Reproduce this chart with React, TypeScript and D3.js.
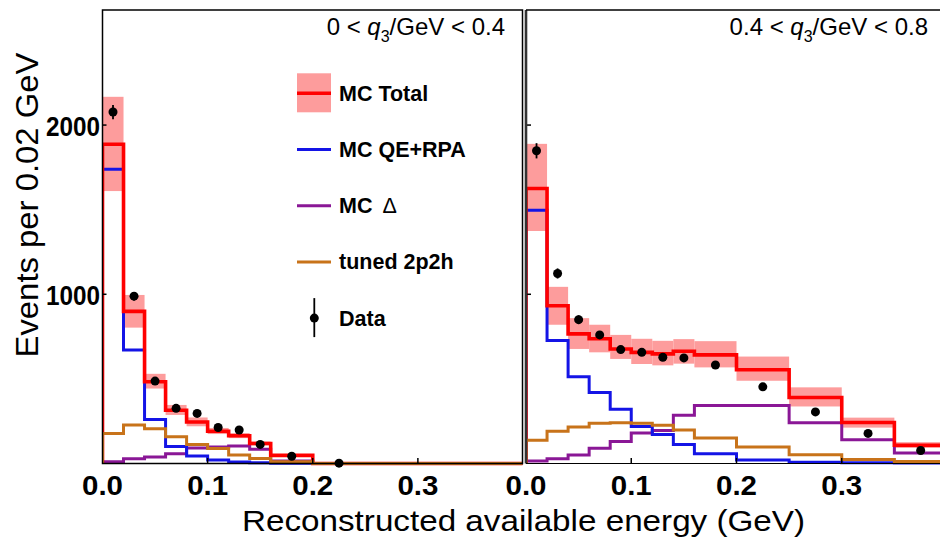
import React from "react";
import * as d3 from "d3";

// Bin edges (GeV) and bin centers
const edges = [0, 0.02, 0.04, 0.06, 0.08, 0.1, 0.12, 0.14, 0.16, 0.2, 0.25, 0.3, 0.35, 0.4];
const centers = [0.01, 0.03, 0.05, 0.07, 0.09, 0.11, 0.13, 0.15, 0.18, 0.225, 0.275, 0.325, 0.375];

// Left panel: 0 < q3/GeV < 0.4
const leftTotal = [1887, 899, 483, 315, 245, 191, 164, 118, 48, 0, 0, 0, 0];
const leftTotalLo = [1610, 803, 443, 287, 220, 174, 150, 107, 43, 0, 0, 0, 0];
const leftTotalHi = [2167, 996, 530, 346, 272, 210, 180, 130, 54, 0, 0, 0, 0];
const leftQE = [1739, 671, 260, 100, 45, 20, 9, 4, 1, 0, 0, 0, 0];
const leftDelta = [10, 28, 38, 58, 92, 98, 104, 84, 15, 0, 0, 0, 0];
const left2p2h = [178, 228, 206, 158, 113, 89, 50, 30, 11, 0, 0, 0, 0];
const leftData: (number | null)[] = [2077, 989, 487, 326, 296, 213, 198, 113, 43, 2, null, null, null];
const leftErr = [42, 25, 18, 14, 13, 11, 11, 9, 5, 1, 0, 0, 0];

// Right panel: 0.4 < q3/GeV < 0.8
const rightTotal = [1625, 932, 766, 737, 677, 657, 648, 663, 642, 554, 390, 242, 108];
const rightTotalLo = [1374, 820, 677, 657, 618, 588, 580, 590, 568, 489, 337, 212, 92];
const rightTotalHi = [1889, 1044, 859, 820, 760, 737, 725, 735, 723, 632, 450, 271, 126];
const rightQE = [1497, 727, 513, 420, 321, 218, 172, 113, 57, 20, 8, 4, 3];
const rightDelta = [15, 28, 50, 90, 130, 180, 195, 285, 343, 343, 241, 140, 62];
const right2p2h = [138, 190, 215, 238, 241, 238, 226, 198, 150, 97, 52, 24, 12];
const rightData: (number | null)[] = [1848, 1123, 850, 760, 673, 657, 628, 624, 582, 453, 305, 178, 77];
const rightErr = [45, 30, 26, 20, 18, 18, 17, 17, 12, 10, 8, 7, 5];

const xTicks = [0, 0.1, 0.2, 0.3];
const yTicks = [1000, 2000];

const legendItems = [
  { label: "MC Total", color: "#ff0000", kind: "band" },
  { label: "MC QE+RPA", color: "#1414e6", kind: "line" },
  { label: "MC", extra: "Δ", color: "#8a1796", kind: "line" },
  { label: "tuned 2p2h", color: "#c8731a", kind: "line" },
  { label: "Data", color: "#000", kind: "data" },
];

const W = 940;
const H = 538;
const FONT = "'Liberation Sans', Arial, Helvetica, sans-serif";
const C_TOTAL = "#ff0000";
const C_QE = "#1414e6";
const C_DELTA = "#8a1796";
const C_2P2H = "#c8731a";
const C_BAND = "#fd9c9c";
const LW = 3.0;
const LW_TOT = 3.6;

const yScale = d3.scaleLinear().domain([0, 2680]).range([463.5, 10]);
const xLeft = d3.scaleLinear().domain([0, 0.4]).range([102.5, 523]);
const xRight = d3.scaleLinear().domain([0, 0.4]).range([526, 947]);

function stepPath(x: d3.ScaleLinear<number, number>, vals: number[]) {
  const pts: [number, number][] = [[edges[0], 0]];
  vals.forEach((v, i) => {
    pts.push([edges[i], v]);
    pts.push([edges[i + 1], v]);
  });
  pts.push([edges[edges.length - 1], 0]);
  return d3
    .line<[number, number]>()
    .x((d) => x(d[0]))
    .y((d) => yScale(d[1]))(pts) as string;
}

type PanelProps = {
  id: string;
  x: d3.ScaleLinear<number, number>;
  clipX0: number;
  clipX1: number;
  total: number[];
  lo: number[];
  hi: number[];
  qe: number[];
  delta: number[];
  tp: number[];
  data: (number | null)[];
  err: number[];
};

function Panel(p: PanelProps) {
  const { x } = p;
  return (
    <g>
      <defs>
        <clipPath id={p.id}>
          <rect x={p.clipX0} y={8} width={p.clipX1 - p.clipX0} height={460} />
        </clipPath>
      </defs>
      <g clipPath={`url(#${p.id})`}>
        {p.total.map((_, i) =>
          p.hi[i] > p.lo[i] ? (
            <rect
              key={"b" + i}
              x={x(edges[i])}
              width={x(edges[i + 1]) - x(edges[i])}
              y={yScale(p.hi[i])}
              height={yScale(p.lo[i]) - yScale(p.hi[i])}
              fill={C_BAND}
            />
          ) : null
        )}
        <path d={stepPath(x, p.delta)} fill="none" stroke={C_DELTA} strokeWidth={LW} />
        <path d={stepPath(x, p.qe)} fill="none" stroke={C_QE} strokeWidth={LW} />
        <path d={stepPath(x, p.total)} fill="none" stroke={C_TOTAL} strokeWidth={LW_TOT} />
        <path d={stepPath(x, p.tp)} fill="none" stroke={C_2P2H} strokeWidth={LW} />
        {p.data.map((v, i) =>
          v === null ? null : (
            <g key={"d" + i}>
              <line
                x1={x(centers[i])}
                x2={x(centers[i])}
                y1={yScale(v + p.err[i])}
                y2={yScale(Math.max(0, v - p.err[i]))}
                stroke="#000"
                strokeWidth={1.8}
              />
              <circle cx={x(centers[i])} cy={yScale(v)} r={4.5} fill="#000" />
            </g>
          )
        )}
      </g>
      {/* ticks */}
      {xTicks.slice(1).map((t) => (
        <line key={"xt" + t} x1={x(t)} x2={x(t)} y1={463.5} y2={458} stroke="#000" strokeWidth={1.5} />
      ))}
      {yTicks.map((t) => (
        <line key={"yt" + t} x1={p.clipX0} x2={p.clipX0 + 4} y1={yScale(t)} y2={yScale(t)} stroke="#000" strokeWidth={1.5} />
      ))}
      {xTicks.map((t) => (
        <text
          key={"xl" + t}
          x={x(t)}
          y={495}
          textAnchor="middle"
          fontFamily={FONT}
          fontWeight="bold"
          fontSize={28}
          textLength={41}
          lengthAdjust="spacingAndGlyphs"
          fill="#000"
        >
          {t.toFixed(1)}
        </text>
      ))}
    </g>
  );
}

export default function App() {
  return (
    <svg
      width={W}
      height={H}
      viewBox={`0 0 ${W} ${H}`}
      style={{ position: "absolute", left: 0, top: 0, background: "#fff" }}
    >
      <rect x={0} y={0} width={W} height={H} fill="#fff" />
      <Panel
        id="clipL"
        x={xLeft}
        clipX0={102.5}
        clipX1={522.5}
        total={leftTotal}
        lo={leftTotalLo}
        hi={leftTotalHi}
        qe={leftQE}
        delta={leftDelta}
        tp={left2p2h}
        data={leftData}
        err={leftErr}
      />
      <Panel
        id="clipR"
        x={xRight}
        clipX0={527}
        clipX1={940}
        total={rightTotal}
        lo={rightTotalLo}
        hi={rightTotalHi}
        qe={rightQE}
        delta={rightDelta}
        tp={right2p2h}
        data={rightData}
        err={rightErr}
      />
      {/* frames */}
      <rect x={102.5} y={10} width={420} height={453.5} fill="none" stroke="#000" strokeWidth={1.5} />
      <line x1={526} x2={526} y1={10} y2={463.5} stroke="#333" strokeWidth={2.6} />
      <line x1={526} x2={940} y1={10} y2={10} stroke="#000" strokeWidth={1.5} />
      <line x1={526} x2={940} y1={463.5} y2={463.5} stroke="#000" strokeWidth={1.2} />

      {/* y tick labels */}
      {yTicks.map((t) => (
        <text
          key={"yl" + t}
          x={100}
          y={yScale(t) + 10.5}
          textAnchor="end"
          fontFamily={FONT}
          fontWeight="bold"
          fontSize={28}
          textLength={54}
          lengthAdjust="spacingAndGlyphs"
          fill="#000"
        >
          {t}
        </text>
      ))}

      {/* panel titles */}
      <text x={505} y={35} textAnchor="end" fontFamily={FONT} fontSize={24} fill="#000">
        <tspan>0 &lt;  </tspan>
        <tspan fontStyle="italic">q</tspan>
        <tspan fontSize={16} dy={7}>3</tspan>
        <tspan dy={-7}>/GeV &lt; 0.4</tspan>
      </text>
      <text x={928} y={35} textAnchor="end" fontFamily={FONT} fontSize={24} fill="#000">
        <tspan>0.4 &lt;  </tspan>
        <tspan fontStyle="italic">q</tspan>
        <tspan fontSize={16} dy={7}>3</tspan>
        <tspan dy={-7}>/GeV &lt; 0.8</tspan>
      </text>

      {/* legend */}
      {legendItems.map((it, i) => {
        const yc = 93.3 + i * 56.2;
        return (
          <g key={"lg" + i}>
            {it.kind === "band" && (
              <rect x={297} y={yc - 20} width={34} height={39} fill={C_BAND} />
            )}
            {it.kind !== "data" && (
              <line x1={297} x2={331} y1={yc} y2={yc} stroke={it.color} strokeWidth={it.kind === "band" ? LW_TOT : LW} />
            )}
            {it.kind === "data" && (
              <g>
                <line x1={314.3} x2={314.3} y1={yc - 20} y2={yc + 19} stroke="#000" strokeWidth={1.8} />
                <circle cx={314.3} cy={yc} r={4.5} fill="#000" />
              </g>
            )}
            <text x={339} y={yc + 7.5} fontFamily={FONT} fontWeight="bold" fontSize={21.5} fill="#000">
              {it.label}
              {it.extra ? (
                <tspan dx={10} fontWeight="normal">
                  {it.extra}
                </tspan>
              ) : null}
            </text>
          </g>
        );
      })}

      {/* axis titles */}
      <text
        transform="translate(38,205) rotate(-90)"
        textAnchor="middle"
        fontFamily={FONT}
        fontSize={32}
        textLength={305}
        lengthAdjust="spacingAndGlyphs"
        fill="#000"
      >
        Events per 0.02 GeV
      </text>
      <text
        x={523.5}
        y={531}
        textAnchor="middle"
        fontFamily={FONT}
        fontSize={30}
        textLength={563}
        lengthAdjust="spacingAndGlyphs"
        fill="#000"
      >
        Reconstructed available energy (GeV)
      </text>
    </svg>
  );
}
